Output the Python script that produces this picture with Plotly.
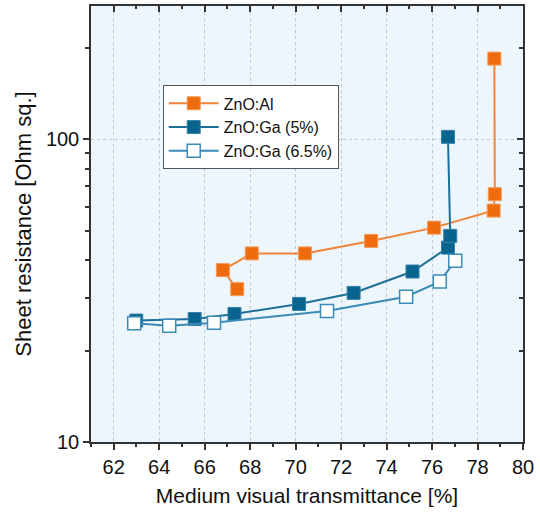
import plotly.graph_objects as go

# ---- data ----
al_x = [67.43, 66.8, 68.07, 70.41, 73.32, 76.09, 78.71, 78.76, 78.74]
al_y = [32.0, 37.0, 42.0, 42.0, 46.2, 51.1, 58.2, 65.9, 185.0]

ga5_x = [62.99, 65.56, 67.31, 70.15, 72.55, 75.14, 76.70, 76.80, 76.70]
ga5_y = [25.2, 25.5, 26.5, 28.6, 31.1, 36.6, 43.9, 48.0, 102.0]

ga65_x = [62.9, 64.44, 66.41, 71.38, 74.86, 76.34, 77.02]
ga65_y = [24.7, 24.2, 24.8, 27.1, 30.2, 33.9, 39.7]

names = ["ZnO:Al", "ZnO:Ga (5%)", "ZnO:Ga (6.5%)"]

x_ticks = [62, 64, 66, 68, 70, 72, 74, 76, 78, 80]
y_major = [10, 100]
y_minor = [20, 30, 40, 50, 60, 70, 80, 90, 200]

ORANGE = "#EF6C0E"
ORANGE_L = "#F0843A"
BLUE = "#08648E"
BLUE_L = "#1E6F97"
BLUE2 = "#3A8BB5"

fig = go.Figure()
fig.add_trace(go.Scatter(x=al_x, y=al_y, name=names[0], mode="lines+markers",
                         line=dict(color=ORANGE_L, width=2),
                         marker=dict(symbol="square", size=13, color=ORANGE,
                                     line=dict(color="#F39A5A", width=1))))
fig.add_trace(go.Scatter(x=ga5_x, y=ga5_y, name=names[1], mode="lines+markers",
                         line=dict(color=BLUE_L, width=2),
                         marker=dict(symbol="square", size=13, color=BLUE,
                                     line=dict(color="#3580A8", width=1))))
fig.add_trace(go.Scatter(x=ga65_x, y=ga65_y, name=names[2], mode="lines+markers",
                         line=dict(color=BLUE2, width=2),
                         marker=dict(symbol="square", size=13, color="white",
                                     line=dict(color=BLUE2, width=1.5))))
# dummy trace for mirrored (inside) ticks
fig.add_trace(go.Scatter(x=[None], y=[None], xaxis="x2", yaxis="y2",
                         showlegend=False, hoverinfo="skip"))

font = "Arial, Liberation Sans, sans-serif"
xr = [61, 80]
yr = [1, 2.441]

fig.update_layout(
    width=540, height=515,
    margin=dict(l=91, r=14, t=6, b=73),
    paper_bgcolor="white", plot_bgcolor="#EEF6FD",
    font=dict(family=font, size=20, color="#111"),
    showlegend=True,
    legend=dict(x=0.166, y=0.818, xanchor="left", yanchor="top",
                bgcolor="white", bordercolor="#555", borderwidth=1,
                font=dict(size=16, color="#111"), tracegroupgap=0,
                itemwidth=50, itemsizing="trace"),
    xaxis=dict(range=xr, tickvals=x_ticks, ticks="outside", ticklen=6,
               tickwidth=1.5, tickcolor="#333", showline=True, linecolor="#333",
               linewidth=1.5, showgrid=True, gridcolor="#BFC6CC", griddash="dot",
               gridwidth=1, zeroline=False,
               title=dict(text="Medium visual transmittance [%]", font=dict(size=21), standoff=12),
               minor=dict(dtick=1, ticks="outside", ticklen=3, tickwidth=1.5,
                          tickcolor="#333", showgrid=False)),
    yaxis=dict(type="log", range=yr, tickvals=y_major, ticktext=["10", "100"],
               ticks="outside", ticklen=6, tickwidth=1.5, tickcolor="#333",
               showline=True, linecolor="#333", linewidth=1.5,
               showgrid=True, gridcolor="#BFC6CC", griddash="dot", gridwidth=1,
               zeroline=False,
               title=dict(text="Sheet resistance [Ohm sq.]", font=dict(size=22), standoff=8),
               minor=dict(tickvals=y_minor, ticks="outside", ticklen=4, tickwidth=1.5,
                          tickcolor="#333", showgrid=False)),
    xaxis2=dict(range=xr, overlaying="x", side="top", tickvals=x_ticks,
                ticks="inside", ticklen=6, tickwidth=1.5, tickcolor="#333",
                showticklabels=False, showline=True, linecolor="#333", linewidth=1.5,
                showgrid=False, zeroline=False, anchor="y2",
                minor=dict(dtick=1, ticks="inside", ticklen=3, tickwidth=1.5,
                           tickcolor="#333", showgrid=False)),
    yaxis2=dict(type="log", range=yr, overlaying="y", side="right", tickvals=y_major,
                ticks="inside", ticklen=6, tickwidth=1.5, tickcolor="#333",
                showticklabels=False, showline=True, linecolor="#333", linewidth=1.5,
                showgrid=False, zeroline=False, anchor="x2",
                minor=dict(tickvals=y_minor, ticks="inside", ticklen=4, tickwidth=1.5,
                           tickcolor="#333", showgrid=False)),
)

fig.write_html("out.html", config={"displayModeBar": False},
               post_script="document.body.style.margin='0';")
